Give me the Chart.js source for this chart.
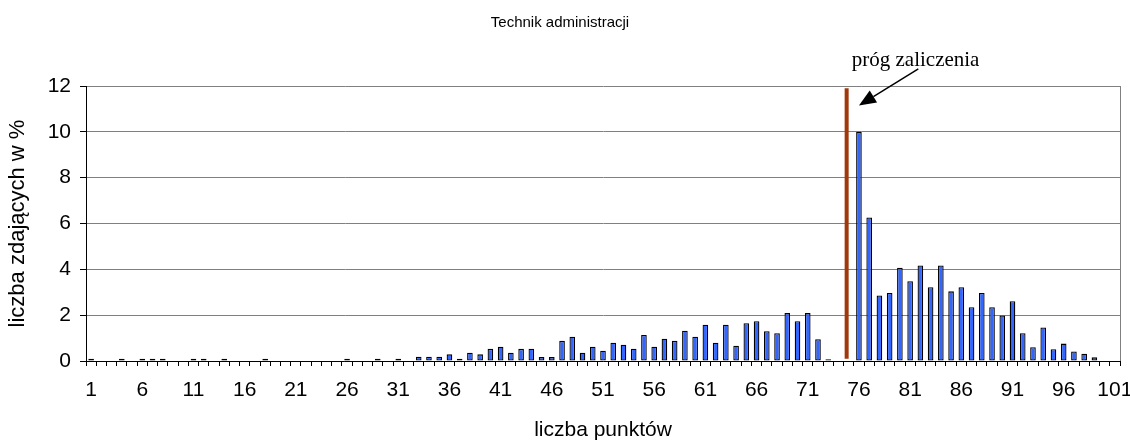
<!DOCTYPE html>
<html>
<head>
<meta charset="utf-8">
<script src="https://cdn.jsdelivr.net/npm/chart.js@4"></script>
<style>
  html, body { margin: 0; padding: 0; background: #fff; }
</style>
</head>
<body>
<canvas id="chart" width="1130" height="443"></canvas>
<script>
// points (x axis) - Excel style categories
const categories = [
  '1','2','3','4','5','6','7','8','9','10',
  '11','12','13','14','15','16','17','18','19','20',
  '21','22','23','24','25','26','27','28','29','30',
  '31','32','33','34','35','36','37','38','39','40',
  '41','42','43','44','45','46','47','48','49','50',
  '51','52','53','54','55','56','57','58','59','60',
  '61','62','63','64','65','66','67','68','69','70',
  '71','72','73','74','75','76','77','78','79','80',
  '81','82','83','84','85','86','87','88','89','90',
  '91','92','93','94','95','96','97','98','99','100',
  '101'
];

// % of candidates for each score
const candidatesPercent = [
  0.1, 0, 0, 0.1, 0, 0.1, 0.1, 0.1, 0, 0,
  0.1, 0.1, 0, 0.1, 0, 0, 0, 0.1, 0, 0,
  0, 0, 0, 0, 0, 0.1, 0, 0, 0.1, 0,
  0.1, 0, 0.19, 0.19, 0.19, 0.29, 0.1, 0.36, 0.29, 0.53,
  0.62, 0.36, 0.53, 0.54, 0.17, 0.17, 0.88, 1.06, 0.36, 0.62,
  0.45, 0.8, 0.71, 0.54, 1.14, 0.62, 0.97, 0.88, 1.32, 1.06,
  1.58, 0.8, 1.58, 0.67, 1.65, 1.74, 1.3, 1.21, 2.09, 1.74,
  2.09, 0.95, 0.08, 0, 0, 10.0, 6.26, 2.86, 2.97, 4.07,
  3.48, 4.17, 3.22, 4.17, 3.04, 3.22, 2.35, 2.97, 2.35, 1.99,
  2.61, 1.21, 0.6, 1.46, 0.51, 0.76, 0.42, 0.32, 0.16, 0,
  0
];

const yTickValues = [0, 2, 4, 6, 8, 10, 12];

// pass mark line (in points) and its label
const passMark = 74.8;
const passMarkLabel = 'próg zaliczenia';

const FONT = "'Liberation Sans', Arial, sans-serif";

// draws plot border, pass mark line and the arrow with its label
const passMarkPlugin = {
    id: 'passMark',
    afterDatasetsDraw(chart) {
        const { ctx, chartArea, scales } = chart;
        const x = scales.x, y = scales.y;
        const px = (p) => x.getPixelForValue(p - 1);

        ctx.save();
        ctx.strokeStyle = '#808080';
        ctx.lineWidth = 1;
        ctx.beginPath();
        ctx.moveTo(chartArea.right + 0.5, chartArea.top);
        ctx.lineTo(chartArea.right + 0.5, chartArea.bottom);
        ctx.stroke();

        // pass mark
        const lx = px(passMark);
        ctx.strokeStyle = '#a0380a';
        ctx.lineWidth = 4;
        ctx.beginPath();
        ctx.moveTo(lx, y.getPixelForValue(0.1));
        ctx.lineTo(lx, y.getPixelForValue(11.9));
        ctx.stroke();

        // arrow
        const tipX = px(76), tipY = y.getPixelForValue(11.15);
        const tailX = px(81.8), tailY = y.getPixelForValue(12.75);
        const ang = Math.atan2(tipY - tailY, tipX - tailX);
        const headLen = 17, headW = 7;
        const bx = tipX - headLen * Math.cos(ang), by = tipY - headLen * Math.sin(ang);
        ctx.strokeStyle = '#000';
        ctx.lineWidth = 1.5;
        ctx.beginPath();
        ctx.moveTo(tailX, tailY);
        ctx.lineTo(bx, by);
        ctx.stroke();
        ctx.fillStyle = '#000';
        ctx.beginPath();
        ctx.moveTo(tipX, tipY);
        ctx.lineTo(bx + headW * Math.sin(ang), by - headW * Math.cos(ang));
        ctx.lineTo(bx - headW * Math.sin(ang), by + headW * Math.cos(ang));
        ctx.closePath();
        ctx.fill();

        ctx.font = "21px 'Liberation Serif', 'Times New Roman', serif";
        ctx.textAlign = 'left';
        ctx.textBaseline = 'alphabetic';
        ctx.fillText(passMarkLabel, px(75.3), y.getPixelForValue(12.87));
        ctx.restore();
    }
};

const ctx = document.getElementById('chart').getContext('2d');
new Chart(ctx, {
    type: 'bar',
    data: {
        labels: categories,
        datasets: [{
            data: candidatesPercent,
            backgroundColor: '#3366ff',
            borderColor: '#000000',
            borderWidth: 1.3,
            borderSkipped: false,
            barPercentage: 0.55,
            categoryPercentage: 1
        }]
    },
    options: {
        responsive: false,
        animation: false,
        layout: { padding: { top: 0, right: 10, bottom: 0, left: 0 } },
        plugins: {
            legend: { display: false },
            tooltip: { enabled: false },
            title: {
                display: true,
                text: 'Technik administracji',
                color: '#000',
                font: { family: FONT, size: 15, weight: 'normal' },
                padding: { top: 14, bottom: 54 }
            }
        },
        scales: {
            x: {
                grid: { drawOnChartArea: false, drawTicks: true, tickLength: 5, tickColor: '#000', offset: true },
                border: { color: '#000', width: 1 },
                ticks: {
                    autoSkip: false,
                    maxRotation: 0,
                    minRotation: 0,
                    padding: 12,
                    color: '#000',
                    font: { family: FONT, size: 21 },
                    callback: (v, i) => (i % 5 === 0 ? categories[i] : '')
                },
                title: {
                    display: true,
                    text: 'liczba punktów',
                    color: '#000',
                    font: { family: FONT, size: 21 },
                    padding: { top: 0, bottom: 0 }
                },
                afterFit: (s) => {
                    s.height = 82;
                    s.paddingLeft = 0;
                    s.paddingRight = 0;
                }
            },
            y: {
                min: 0,
                max: 12,
                afterBuildTicks: (s) => { s.ticks = yTickValues.map(v => ({ value: v })); },
                grid: { color: '#808080', tickColor: '#000', tickLength: 6 },
                border: { color: '#000', width: 1 },
                ticks: {
                    padding: 9,
                    color: '#000',
                    font: { family: FONT, size: 21 }
                },
                title: {
                    display: true,
                    text: 'liczba zdających w %',
                    color: '#000',
                    font: { family: FONT, size: 22 },
                    padding: { top: 5, bottom: 0 }
                },
                afterFit: (s) => { s.width = 86; }
            }
        }
    },
    plugins: [passMarkPlugin]
});
</script>
</body>
</html>
